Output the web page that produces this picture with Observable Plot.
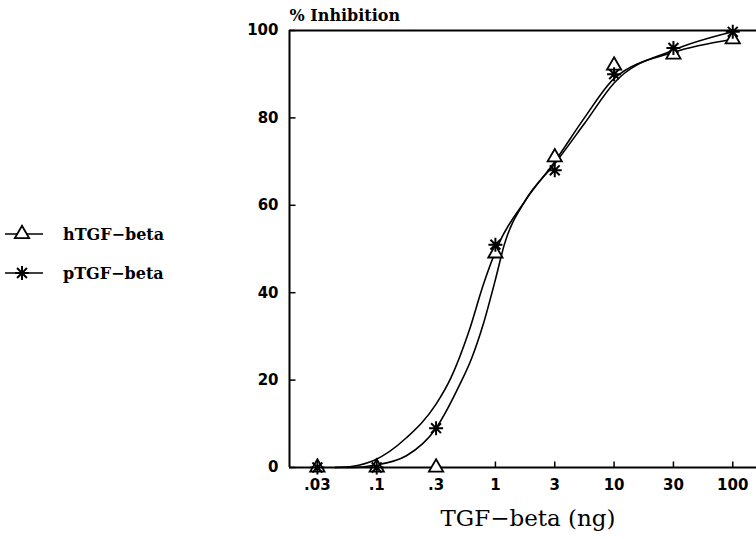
<!DOCTYPE html>
<html><head><meta charset="utf-8">
<script src="https://cdn.jsdelivr.net/npm/d3@7"></script>
<script src="https://cdn.jsdelivr.net/npm/@observablehq/plot@0.6"></script>
<style>
body{margin:0;background:#fff;}
#wrap{position:relative;width:756px;height:539px;}
#legend{position:absolute;left:0;top:0;}
</style></head><body>
<div id="wrap"><div id="chart"></div><svg id="legend" width="220" height="539"></svg></div>
<script>
// ---- data ----
const doseLabels = [".03", ".1", ".3", "1", "3", "10", "30", "100"];
const doseIndex = [0, 1, 2, 3, 4, 5, 6, 7];
const hTGF = [0, 0, 0, 49, 71, 92, 94.5, 98];
const pTGF = [0, 0, 9, 51, 68, 90, 96, 99.7];
// fitted curves (x in dose-index units)
const curveAx = [0.3, 0.6, 0.95, 1.5, 2, 2.25, 2.55, 2.8, 3.05, 3.5, 4, 4.5, 5, 6, 7];
const curveAy = [0, 0.3, 1.6, 6.8, 14.5, 20.5, 31, 42, 51, 61, 70, 80, 89, 95, 98];
const curveBx = [0.3, 0.6, 0.95, 1.5, 2, 2.4, 2.6, 2.8, 3.0, 3.15, 3.5, 4, 4.5, 5, 6, 7];
const curveBy = [0, 0, 0.5, 2.7, 9, 19, 25, 33, 43, 51, 61, 69.5, 78.7, 88, 95.5, 99.7];
const yTicks = [0, 20, 40, 60, 80, 100];
const xDomain = [-0.47, 7.4];
const seriesNames = ["hTGF\u2212beta", "pTGF\u2212beta"];

const hPts = doseIndex.map((x, i) => ({x, y: hTGF[i]}));
const pPts = doseIndex.map((x, i) => ({x, y: pTGF[i]}));
const curveA = curveAx.map((x, i) => ({x, y: curveAy[i]}));
const curveB = curveBx.map((x, i) => ({x, y: curveBy[i]}));

const star8 = {draw(ctx, size) {
  const r = Math.sqrt(size / Math.PI);
  for (let k = 0; k < 4; k++) {
    const a = k * Math.PI / 4;
    ctx.moveTo(r * Math.cos(a), r * Math.sin(a));
    ctx.lineTo(-r * Math.cos(a), -r * Math.sin(a));
  }
}};
const tickLen = 6;
const tickUp = {draw(ctx) { ctx.moveTo(0, 0); ctx.lineTo(0, -tickLen); }};
const tickRight = {draw(ctx) { ctx.moveTo(0, 0); ctx.lineTo(tickLen, 0); }};

const tickFont = {fontSize: 15, fontWeight: "bold", fontFamily: "DejaVu Sans"};

const chart = Plot.plot({
  width: 756, height: 539,
  marginLeft: 289, marginRight: 0, marginTop: 30, marginBottom: 72,
  x: {domain: xDomain, axis: null},
  y: {domain: [0, 100], axis: null},
  style: {background: "white", color: "black"},
  marks: [
    Plot.axisY(yTicks, {label: null, tickSize: 0, tickPadding: 11, ...tickFont}),
    Plot.axisX(doseIndex, {label: null, tickSize: 0, tickPadding: 12, tickFormat: i => doseLabels[i], ...tickFont}),
    // inward tick marks
    Plot.dot(yTicks, {x: () => xDomain[0], y: d => d, symbol: tickRight, fill: "none", stroke: "black", strokeWidth: 1.5}),
    Plot.dot(doseIndex, {x: d => d, y: () => 0, symbol: tickUp, fill: "none", stroke: "black", strokeWidth: 1.5}),
    Plot.ruleY([0, 100], {strokeWidth: 2}),
    Plot.ruleX([xDomain[0]], {strokeWidth: 2}),
    Plot.line(curveA, {x: "x", y: "y", curve: "monotone-x", strokeWidth: 1.6}),
    Plot.line(curveB, {x: "x", y: "y", curve: "monotone-x", strokeWidth: 1.6}),
    Plot.dot(hPts, {x: "x", y: "y", symbol: "triangle", r: 5.3, fill: "white", stroke: "black", strokeWidth: 1.8}),
    Plot.dot(pPts, {x: "x", y: "y", symbol: star8, r: 7, fill: "none", stroke: "black", strokeWidth: 2}),
    Plot.text(["% Inhibition"], {frameAnchor: "top-left", dx: 0, dy: -15, textAnchor: "start", lineAnchor: "middle",
      fontSize: 16, fontWeight: "bold", fontFamily: "DejaVu Serif"}),
    Plot.text(["TGF\u2212beta (ng)"], {frameAnchor: "bottom", dx: 5, dy: 51, lineAnchor: "middle",
      fontSize: 23, fontFamily: "DejaVu Serif", letterSpacing: "2px"})
  ]
});
document.getElementById("chart").appendChild(chart);

// legend
const lg = d3.select("#legend");
const rows = [{y: 234, name: seriesNames[0], sym: d3.symbol(d3.symbolTriangle, Math.PI * 5.3 * 5.3)()},
              {y: 273, name: seriesNames[1], sym: d3.symbol(star8, Math.PI * 49)()}];
rows.forEach((r, i) => {
  lg.append("line").attr("x1", 5).attr("x2", 43).attr("y1", r.y).attr("y2", r.y)
    .attr("stroke", "black").attr("stroke-width", 1.5);
  lg.append("path").attr("d", r.sym).attr("transform", `translate(22,${r.y})`)
    .attr("fill", i === 0 ? "white" : "none").attr("stroke", "black").attr("stroke-width", i === 0 ? 1.8 : 2);
  lg.append("text").attr("x", 63).attr("y", r.y).attr("dy", "0.35em")
    .attr("font-family", "DejaVu Serif").attr("font-weight", "bold").attr("font-size", 16)
    .text(r.name);
});
</script></body></html>
